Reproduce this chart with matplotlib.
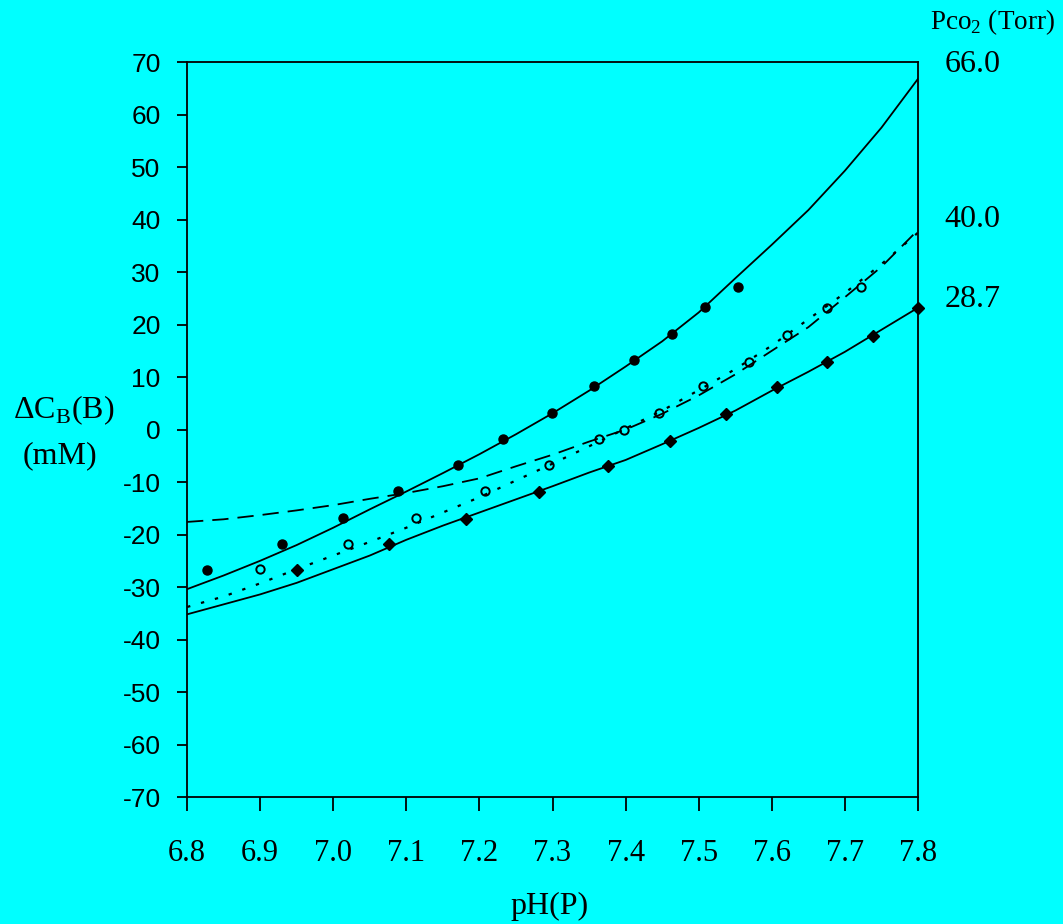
import matplotlib.pyplot as plt

# pH grid used for the curves
ph = [6.80, 6.85, 6.90, 6.95, 7.00, 7.05, 7.10, 7.15, 7.20, 7.25, 7.30,
      7.35, 7.40, 7.45, 7.50, 7.55, 7.60, 7.65, 7.70, 7.75, 7.80]

# curves (solid 66.0, dashed 40.0, dotted 40.0, solid 28.7)
curve_66 = [-30.4, -27.8, -25.0, -22.0, -18.7, -15.2, -11.8, -8.3, -4.7, -0.9, 3.1,
            7.4, 12.0, 16.8, 22.3, 28.8, 35.2, 41.8, 49.3, 57.5, 66.8]
curve_40_dash = [-17.6, -17.1, -16.3, -15.4, -14.4, -13.2, -12.1, -10.8, -9.3, -7.0, -4.8,
                 -2.3, 0.0, 3.0, 6.5, 10.5, 15.0, 19.5, 25.2, 31.0, 38.0]
curve_40_dot = [-33.8, -31.8, -29.3, -26.6, -24.0, -21.4, -18.7, -15.8, -12.9, -9.7, -6.5,
                -3.2, 0.2, 3.6, 7.5, 11.5, 16.0, 21.0, 26.0, 31.5, 37.5]
curve_28 = [-35.2, -33.3, -31.4, -29.2, -26.6, -24.0, -21.0, -18.3, -15.8, -13.3, -10.8,
            -8.2, -5.8, -2.8, 0.3, 3.6, 7.4, 11.0, 14.8, 19.0, 23.2]

# measured points
dots_x = [6.827, 6.93, 7.013, 7.089, 7.171, 7.232, 7.299, 7.357, 7.411, 7.463, 7.509, 7.554]
dots_y = [-26.7, -21.8, -16.9, -11.7, -6.8, -1.8, 3.2, 8.2, 13.2, 18.2, 23.3, 27.1]

circ_x = [6.90, 7.02, 7.113, 7.208, 7.295, 7.364, 7.398, 7.446, 7.506, 7.569, 7.621, 7.676, 7.722]
circ_y = [-26.6, -21.8, -16.9, -11.8, -6.8, -1.8, 0.0, 3.1, 8.3, 12.9, 18.0, 23.2, 27.1]

diam_x = [6.95, 7.076, 7.182, 7.281, 7.376, 7.461, 7.537, 7.607, 7.676, 7.739, 7.80]
diam_y = [-26.8, -21.8, -17.0, -11.9, -6.9, -2.1, 2.9, 8.1, 12.9, 17.8, 23.1]

pco2_labels = ["66.0", "40.0", "28.7"]
pco2_label_y = [69.5, 40.0, 24.7]

x_ticks = [6.8, 6.9, 7.0, 7.1, 7.2, 7.3, 7.4, 7.5, 7.6, 7.7, 7.8]
y_ticks = list(range(-70, 71, 10))

bg = "#00FFFF"
serif = ["Liberation Serif", "DejaVu Serif"]
sans = ["Liberation Sans", "DejaVu Sans"]

fig = plt.figure(figsize=(10.63, 9.24), dpi=100, facecolor=bg)
ax = fig.add_axes([0.176, 0.1374, 0.6876, 0.7955], facecolor=bg)

# curves
ax.plot(ph, curve_66, color="black", lw=1.3)
ax.plot(ph, curve_40_dash, color="black", lw=1.3, linestyle=(0, (9, 5)))
ax.plot(ph, curve_40_dot, color="black", lw=1.6, linestyle=(0, (1.5, 5)))
ax.plot(ph, curve_28, color="black", lw=1.3)

# points
ax.plot(dots_x, dots_y, "o", color="black", ms=6.5, clip_on=False)
ax.plot(circ_x, circ_y, "o", mfc="none", mec="black", mew=1.4, ms=6, clip_on=False)
ax.plot(diam_x, diam_y, "D", color="black", ms=6.5, clip_on=False)

ax.set_xlim(6.8, 7.8)
ax.set_ylim(-70, 70)
ax.set_xticks(x_ticks)
ax.set_xticklabels([f"{v:.1f}" for v in x_ticks], fontfamily=serif, fontsize=22)
ax.set_yticks(y_ticks)
ax.set_yticklabels([str(v) for v in y_ticks], fontfamily=sans, fontsize=19)
ax.tick_params(axis="x", direction="out", length=10, width=1.3, pad=20)
ax.tick_params(axis="y", direction="out", length=7, width=1.3, pad=12)
for s in ax.spines.values():
    s.set_linewidth(1.3)

# axis labels
fig.text(0.517, 0.003, "pH(P)", fontfamily=serif, fontsize=23, ha="center", va="bottom")
fig.text(0.06, 0.556, "\u0394C$_\\mathregular{B}$(B)", fontfamily=serif, fontsize=23,
         ha="center", va="center")
fig.text(0.056, 0.507, "(mM)", fontfamily=serif, fontsize=23, ha="center", va="center")

# Pco2 labels
fig.text(0.9335, 0.976, r"Pco$_\mathregular{2}$ (Torr)", fontfamily=serif, fontsize=19.5,
         ha="center", va="center")
for lab, yv in zip(pco2_labels, pco2_label_y):
    ax.text(7.836, yv, lab, fontfamily=serif, fontsize=23, ha="left", va="center")

fig.savefig("out.png", dpi=100, facecolor=bg)
